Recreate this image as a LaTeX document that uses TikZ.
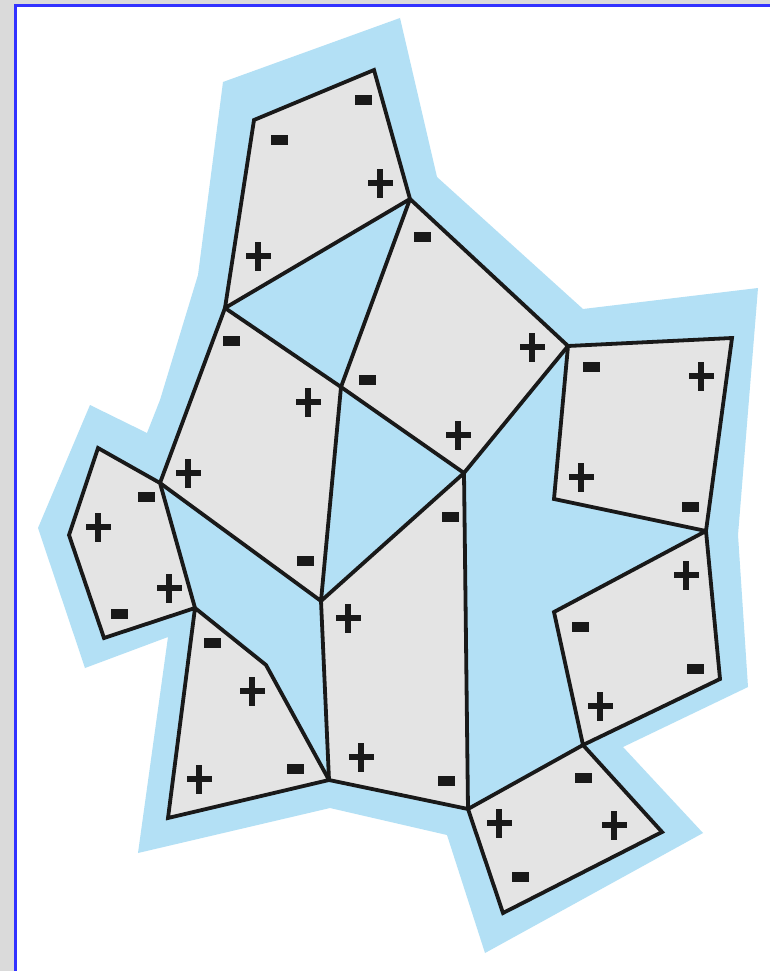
\documentclass[tikz,border=0pt]{standalone}
\begin{document}
\begin{tikzpicture}[x=1pt,y=-1pt,
  poly/.style={draw=black!90,line width=3.8pt,fill=cellgray,line join=miter},
  pmark/.pic={\fill[black!90] (-12.5,-2.7) rectangle (12.5,2.7); \fill[black!90] (-2.7,-14.5) rectangle (2.7,14.5);},
  mmark/.pic={\fill[black!90] (-8.5,-4.8) rectangle (8.5,4.8);}]
\definecolor{skyblue}{RGB}{179,224,245}
\definecolor{cellgray}{RGB}{228,228,228}
\definecolor{framegray}{RGB}{218,218,218}
\definecolor{frameblue}{RGB}{50,50,255}
\useasboundingbox (0,0) rectangle (770,971);
\fill[white] (0,0) rectangle (770,971);
% frame
\fill[framegray] (0,0) rectangle (14,971);
\fill[framegray] (0,0) rectangle (770,4);
\draw[frameblue,line width=2.8pt] (15.2,971) -- (15.2,5.2) -- (770,5.2);
% blue ground
\fill[skyblue] (223,82) -- (400,18) -- (437,177) -- (583,309) -- (758,288)
  -- (738,535) -- (748,687) -- (623,747) -- (703,833) -- (485,953) -- (447,835)
  -- (330,808) -- (138,853) -- (168,637) -- (85,668) -- (38,528) -- (90,405)
  -- (147,433) -- (160,400) -- (198,275) -- cycle;
% vertices
\coordinate (A) at (225,308);
\coordinate (B) at (410,199);
\coordinate (C) at (341,387);
\coordinate (D) at (568,346);
\coordinate (E) at (464,473);
\coordinate (F) at (321,601);
\coordinate (G) at (160,483);
\coordinate (H) at (468,809);
\coordinate (I) at (329,780);
\coordinate (J) at (195,608);
\coordinate (K) at (266,665);
\coordinate (L) at (168,818);
\coordinate (M) at (104,638);
\coordinate (N) at (69,535);
\coordinate (O) at (98,448);
\coordinate (P1a) at (254,120);
\coordinate (P1b) at (374,70);
\coordinate (R1) at (732,338);
\coordinate (R2) at (706,531);
\coordinate (R3) at (554,499);
\coordinate (S1) at (554,612);
\coordinate (S2) at (720,679);
\coordinate (S3) at (583,745);
\coordinate (T1) at (662,832);
\coordinate (T2) at (503,913);
% cells
\draw[poly] (P1a) -- (P1b) -- (B) -- (A) -- cycle;
\draw[poly] (B) -- (D) -- (E) -- (C) -- cycle;
\draw[poly] (A) -- (C) -- (F) -- (G) -- cycle;
\draw[poly] (F) -- (E) -- (H) -- (I) -- cycle;
\draw[poly] (J) -- (K) -- (I) -- (L) -- cycle;
\draw[poly] (O) -- (G) -- (J) -- (M) -- (N) -- cycle;
\draw[poly] (D) -- (R1) -- (R2) -- (R3) -- cycle;
\draw[poly] (R2) -- (S2) -- (S3) -- (S1) -- cycle;
\draw[poly] (H) -- (S3) -- (T1) -- (T2) -- cycle;
% marks
\pic at (363,100) {mmark};
\pic at (279,140) {mmark};
\pic at (380,183) {pmark};
\pic at (258,256) {pmark};
\pic at (422,237) {mmark};
\pic at (532,347) {pmark};
\pic at (458,435) {pmark};
\pic at (367,380) {mmark};
\pic at (231,341) {mmark};
\pic at (308,402) {pmark};
\pic at (188,473) {pmark};
\pic at (305,561) {mmark};
\pic at (450,517) {mmark};
\pic at (348,618) {pmark};
\pic at (361,757) {pmark};
\pic at (446,781) {mmark};
\pic at (212,643) {mmark};
\pic at (252,691) {pmark};
\pic at (295,769) {mmark};
\pic at (199,779) {pmark};
\pic at (146,497) {mmark};
\pic at (98,527) {pmark};
\pic at (169,588) {pmark};
\pic at (119,614) {mmark};
\pic at (591,367) {mmark};
\pic at (701,376) {pmark};
\pic at (581,477) {pmark};
\pic at (690,507) {mmark};
\pic at (686,575) {pmark};
\pic at (580,627) {mmark};
\pic at (695,669) {mmark};
\pic at (600,706) {pmark};
\pic at (583,778) {mmark};
\pic at (499,823) {pmark};
\pic at (614,825) {pmark};
\pic at (520,877) {mmark};
\end{tikzpicture}
\end{document}
